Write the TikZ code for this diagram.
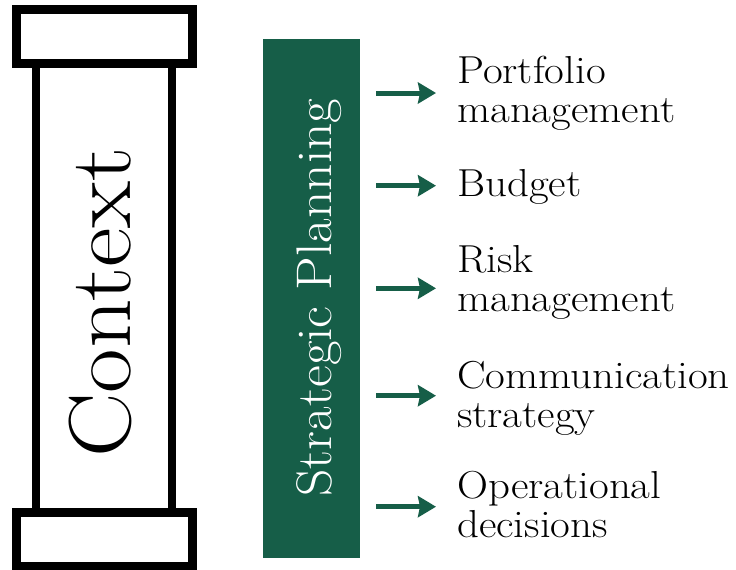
\documentclass[tikz,border=0pt]{standalone}
\usetikzlibrary{arrows.meta}
\definecolor{pgreen}{RGB}{22,94,72}
\newcommand{\hstr}[2]{\scalebox{#1}[1]{#2}}
\newcommand{\twoline}[2]{\vtop{\baselineskip=39.5pt\hbox{\hstr{1.1}{#1}}\hbox{\hstr{1.1}{#2}}}}
\begin{document}
\begin{tikzpicture}[x=1pt,y=-1pt,
  pillar/.style={draw=black,fill=white,rectangle,inner sep=0pt},
  lbl/.style={anchor=base west,inner sep=0pt,font=\fontsize{39}{39.5}\selectfont},
  arr/.style={draw=pgreen,line width=5pt,shorten >=21pt,-{Stealth[length=18pt,width=21pt,inset=2pt]}}]
\useasboundingbox (0,0) rectangle (736,570);
% pillar
\node[pillar,line width=8pt,minimum width=136pt,minimum height=448pt] (col) at (104,288) {};
\node[pillar,line width=9pt,minimum width=176pt,minimum height=54pt] (topcap) at (104.5,36.5) {};
\node[pillar,line width=9pt,minimum width=176pt,minimum height=54pt] (botcap) at (104.5,539.5) {};
\node[rotate=90,anchor=base,inner sep=0pt,font=\fontsize{88}{88}\selectfont] (ctx) at (130,302.5) {\hstr{1.1}{Context}};
% strategic planning bar
\node[fill=pgreen,rectangle,inner sep=0pt,minimum width=97pt,minimum height=519pt] (sp) at (311.5,298.5) {};
\node[rotate=90,anchor=base,inner sep=0pt,text=white,font=\fontsize{50}{50}\selectfont] (spt) at (331,297.5) {\hstr{1.07}{Strategic Planning}};
% labels
\node[lbl] (l1) at (457,83) {\twoline{Portfolio}{management}};
\node[lbl] (l2) at (457,196.7) {\hstr{1.1}{Budget}};
\node[lbl] (l3) at (457,272) {\twoline{Risk}{management}};
\node[lbl] (l4) at (457,388) {\twoline{Communication}{strategy}};
\node[lbl] (l5) at (457,498) {\twoline{Operational}{decisions}};
% arrows
\coordinate (s1) at (376,93);
\coordinate (s2) at (376,185.7);
\coordinate (s3) at (376,288.3);
\coordinate (s4) at (376,395.7);
\coordinate (s5) at (376,506.7);
\draw[arr] (s1) -- (s1 -| l1.west);
\draw[arr] (s2) -- (s2 -| l2.west);
\draw[arr] (s3) -- (s3 -| l3.west);
\draw[arr] (s4) -- (s4 -| l4.west);
\draw[arr] (s5) -- (s5 -| l5.west);
\end{tikzpicture}
\end{document}
